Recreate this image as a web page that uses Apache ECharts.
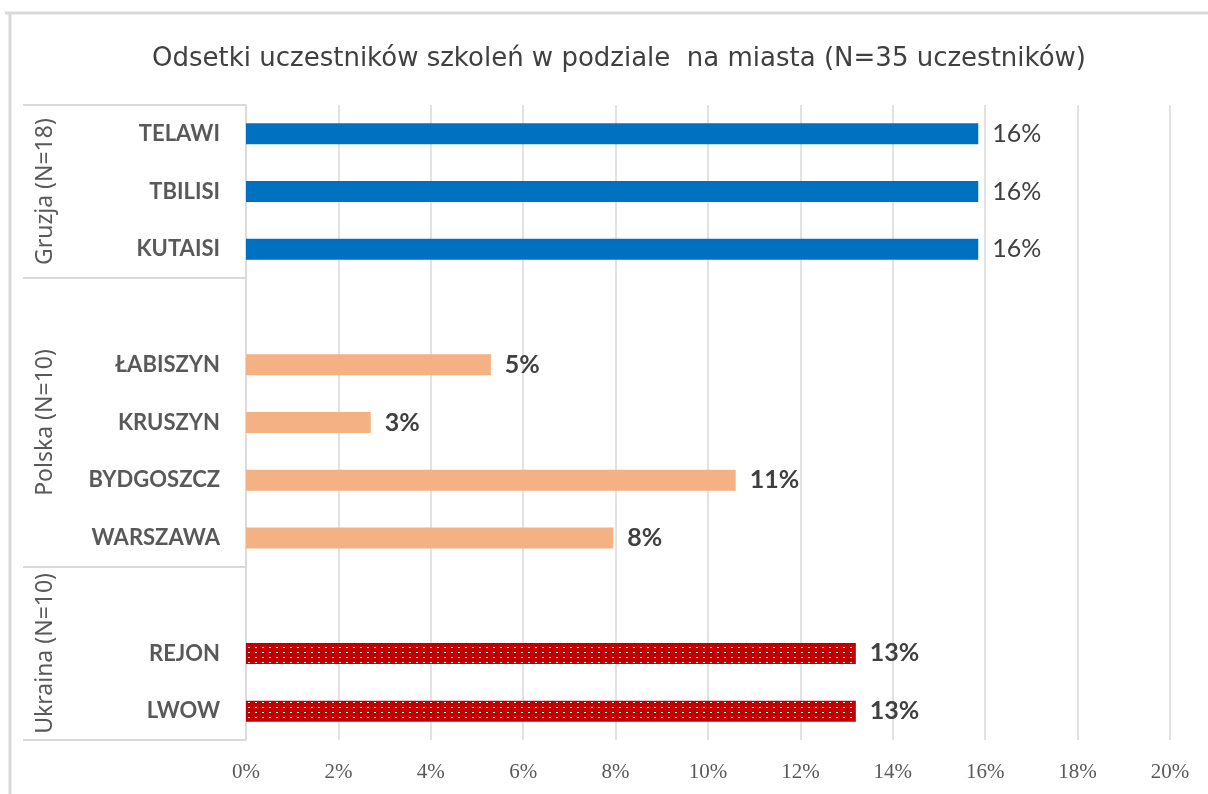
<!DOCTYPE html>
<html>
<head>
<meta charset="utf-8">
<script src="https://cdn.jsdelivr.net/npm/echarts@6/dist/echarts.min.js"></script>
<style>
  html, body { margin: 0; padding: 0; background: #fff; }
  #chart { width: 1208px; height: 794px; }
</style>
</head>
<body>
<div id="chart"></div>
<script>
// kategorie od góry do dołu (puste pozycje = odstęp w grupie)
const cities = ['TELAWI', 'TBILISI', 'KUTAISI', ' ', 'ŁABISZYN', 'KRUSZYN', 'BYDGOSZCZ', 'WARSZAWA', '  ', 'REJON', 'LWOW'];
const shares = [15.85, 15.85, 15.85, null, 5.3, 2.7, 10.6, 7.95, null, 13.2, 13.2];
const groups = ['Gruzja (N=18)', 'Polska (N=10)', 'Ukraina (N=10)'];
const groupSizes = [3, 5, 3];
const xTicks = [0, 2, 4, 6, 8, 10, 12, 14, 16, 18, 20];

// wzór kropkowany dla Ukrainy
const pat = document.createElement('canvas');
pat.width = 7; pat.height = 5;
const pctx = pat.getContext('2d');
pctx.fillStyle = '#C00000';
pctx.fillRect(0, 0, 7, 5);
pctx.fillStyle = '#ffffff';
pctx.fillRect(3, 2, 2, 1);

const groupColors = ['#0070C0', '#F4B183', { image: pat, repeat: 'repeat' }];
const groupWeights = ['normal', 'bold', 'bold'];

// indeks grupy dla każdej kategorii + środki i granice grup
const groupOf = [];
const groupStart = [];
const groupCenter = {};
groupSizes.forEach((n, g) => {
  groupStart.push(groupOf.length);
  groupCenter[groupOf.length + Math.floor(n / 2)] = groups[g];
  for (let i = 0; i < n; i++) groupOf.push(g);
});

const myChart = echarts.init(document.getElementById('chart'));

const option = {
  animation: false,
  title: {
    text: 'Odsetki uczestników szkoleń w podziale  na miasta (N=35 uczestników)',
    left: 147,
    top: 41,
    textStyle: { fontFamily: 'DejaVu Sans', fontWeight: 'normal', fontSize: 26, color: '#404040' }
  },
  graphic: [
    { type: 'line', shape: { x1: 5, y1: 13, x2: 1208, y2: 13 }, style: { stroke: '#D9D9D9', lineWidth: 3 } },
    { type: 'line', shape: { x1: 10, y1: 13, x2: 10, y2: 794 }, style: { stroke: '#D9D9D9', lineWidth: 3 } }
  ],
  grid: { left: 246, right: 38, top: 105, bottom: 54 },
  xAxis: {
    type: 'value',
    min: xTicks[0],
    max: xTicks[xTicks.length - 1],
    interval: 2,
    axisLine: { show: false },
    axisTick: { show: false },
    splitLine: { lineStyle: { color: '#D9D9D9', width: 1.5 } },
    axisLabel: {
      formatter: '{value}%',
      margin: 22,
      fontFamily: 'Liberation Serif',
      fontSize: 21,
      color: '#595959'
    }
  },
  yAxis: [
    {
      type: 'category',
      data: cities,
      inverse: true,
      position: 'left',
      axisLine: { lineStyle: { color: '#D9D9D9', width: 1.5 } },
      axisTick: { show: false },
      axisLabel: {
        interval: 0,
        margin: 26,
        fontFamily: 'Lato',
        fontWeight: 'bold',
        fontSize: 22,
        color: '#595959'
      }
    },
    {
      type: 'category',
      data: cities,
      inverse: true,
      position: 'left',
      axisLine: { show: false },
      axisTick: {
        show: true,
        length: 223,
        interval: (index) => groupStart.indexOf(index) >= 0,
        lineStyle: { color: '#D9D9D9', width: 2 }
      },
      axisLabel: {
        interval: 0,
        rotate: 90,
        margin: 189,
        fontFamily: 'Noto Sans',
        fontSize: 23,
        color: '#595959',
        formatter: (value, index) => groupCenter[index] || ''
      }
    }
  ],
  series: [
    {
      type: 'bar',
      barWidth: 21,
      data: shares.map((v, i) => ({
        value: v,
        itemStyle: { color: groupColors[groupOf[i]] },
        label: { fontWeight: groupWeights[groupOf[i]] }
      })),
      label: {
        show: true,
        position: 'right',
        distance: 14,
        fontFamily: 'Lato',
        fontSize: 25,
        color: '#404040',
        formatter: (p) => (p.value == null ? '' : Math.round(p.value) + '%')
      }
    }
  ]
};

myChart.setOption(option);
</script>
</body>
</html>
